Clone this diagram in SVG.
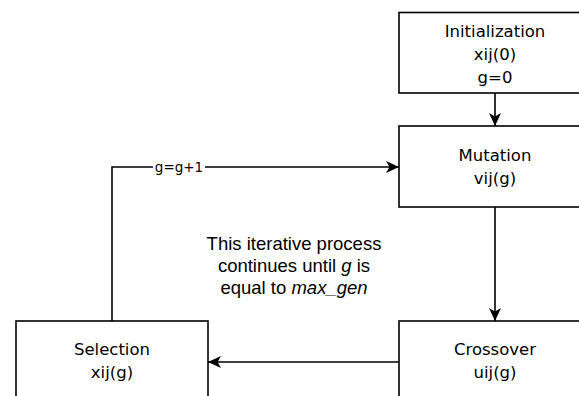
<svg xmlns="http://www.w3.org/2000/svg" width="579" height="396" viewBox="0 0 579 396">
<defs>
<style>
.box{fill:#fff;stroke:#000;stroke-width:1.6}
.t{font-family:"DejaVu Sans",Verdana,sans-serif;font-size:16.5px;fill:#000;text-anchor:middle}
.e{fill:none;stroke:#000;stroke-width:1.6}
.lbl{font-family:"DejaVu Sans",Verdana,sans-serif;font-size:13.5px;fill:#000;text-anchor:middle}
.note{font-family:"Liberation Sans",Arial,sans-serif;font-size:18.5px;fill:#000;text-anchor:middle}
</style>
<marker id="arr" markerUnits="userSpaceOnUse" markerWidth="14" markerHeight="12" viewBox="0 0 14 12" refX="13" refY="6" orient="auto">
<path d="M0,0 L13,6 L0,12 L3.5,6 Z" fill="#000"/>
</marker>
</defs>
<rect width="579" height="396" fill="#fff"/>
<g id="connectors">
<line class="e" x1="495" y1="93" x2="495" y2="126" marker-end="url(#arr)"/>
<line class="e" x1="495" y1="207" x2="495" y2="321" marker-end="url(#arr)"/>
<line class="e" x1="399" y1="362" x2="208" y2="362" marker-end="url(#arr)"/>
<polyline class="e" points="112,321 112,167 399,167" marker-end="url(#arr)"/>
<rect x="153" y="158" width="52" height="18" fill="#fff"/>
<text class="lbl" x="179" y="172">g=g+1</text>
</g>
<g id="initialization">
<rect class="box" x="399" y="12.5" width="192" height="80.5"/>
<text class="t" x="495" y="37">Initialization</text>
<text class="t" x="495" y="60">xij(0)</text>
<text class="t" x="495" y="83">g=0</text>
</g>
<g id="mutation">
<rect class="box" x="399" y="126" width="192" height="81"/>
<text class="t" x="495" y="161">Mutation</text>
<text class="t" x="495" y="184">vij(g)</text>
</g>
<g id="crossover">
<rect class="box" x="399" y="321" width="192" height="80"/>
<text class="t" x="495" y="355">Crossover</text>
<text class="t" x="495" y="378">uij(g)</text>
</g>
<g id="selection">
<rect class="box" x="16" y="321" width="192" height="80"/>
<text class="t" x="112" y="355">Selection</text>
<text class="t" x="112" y="378">xij(g)</text>
</g>
<g id="note">
<text class="note" x="294" y="250">This iterative process</text>
<text class="note" x="294" y="272">continues until <tspan font-style="italic">g</tspan> is</text>
<text class="note" x="294" y="294">equal to <tspan font-style="italic">max_gen</tspan></text>
</g>
</svg>
